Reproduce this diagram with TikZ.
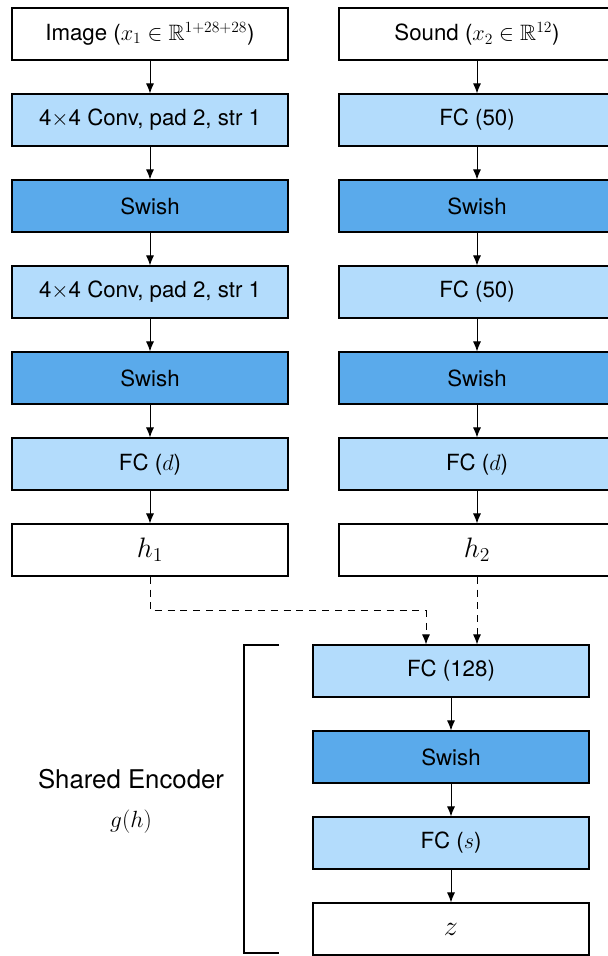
\RequirePackage{fix-cm}
\documentclass[tikz,border=0pt]{standalone}
\usepackage{amsmath}
\usepackage{amssymb}
\usepackage{fontspec}
\setmainfont{TeX Gyre Heros}
\usetikzlibrary{positioning,arrows.meta}
\definecolor{lightblue}{RGB}{179,220,252}
\definecolor{darkblue}{RGB}{90,170,235}

\begin{document}
\begin{tikzpicture}[x=0.03cm,y=-0.03cm,node distance=0.985cm,
  layer/.style={draw,line width=1pt,minimum width=8.28cm,minimum height=1.56cm,inner sep=0pt,font=\fontsize{19}{22}\selectfont},
  plain/.style={layer,fill=white},
  fc/.style={layer,fill=lightblue},
  act/.style={layer,fill=darkblue},
  big/.style={font=\fontsize{24}{28}\selectfont},
  flow/.style={line width=0.8pt,-{Latex[length=3mm,width=2.4mm]}},
  skip/.style={flow,dashed,dash pattern=on 6pt off 5pt}]

  \useasboundingbox (0,0) rectangle (607,956);

  % image branch
  \node[plain] (img) at (150,34) {Image ($x_1 \in \mathbb{R}^{1+28+28}$)};
  \node[fc,below=of img] (conv1) {4$\times$4 Conv, pad 2, str 1};
  \node[act,below=of conv1] (swa1) {Swish};
  \node[fc,below=of swa1] (conv2) {4$\times$4 Conv, pad 2, str 1};
  \node[act,below=of conv2] (swa2) {Swish};
  \node[fc,below=of swa2] (fca) {FC ($d$)};
  \node[plain,big,below=of fca] (h1) {$h_1$};

  % sound branch
  \node[plain] (snd) at (477,34) {Sound ($x_2 \in \mathbb{R}^{12}$)};
  \node[fc,below=of snd] (fcb1) {FC (50)};
  \node[act,below=of fcb1] (swb1) {Swish};
  \node[fc,below=of swb1] (fcb2) {FC (50)};
  \node[act,below=of fcb2] (swb2) {Swish};
  \node[fc,below=of swb2] (fcb3) {FC ($d$)};
  \node[plain,big,below=of fcb3] (h2) {$h_2$};

  % shared encoder
  \node[fc] (fcs1) at (451,671) {FC (128)};
  \node[act,below=of fcs1] (sws) {Swish};
  \node[fc,below=of sws] (fcs2) {FC ($s$)};
  \node[plain,big,below=of fcs2] (z) {$z$};

  \foreach \a/\b in {img/conv1,conv1/swa1,swa1/conv2,conv2/swa2,swa2/fca,fca/h1,
                     snd/fcb1,fcb1/swb1,swb1/fcb2,fcb2/swb2,swb2/fcb3,fcb3/h2,
                     fcs1/sws,sws/fcs2,fcs2/z}
    \draw[flow] (\a) -- (\b);

  \draw[skip] (h1.south) -- ++(0,34) -| ([xshift=-0.75cm]fcs1.north);
  \draw[skip] (h2.south) -- (h2.south |- fcs1.north);

  % bracket
  \draw[line width=1pt] (279,645) -| (244,953) -- (279,953);
  \node[font=\fontsize{22}{26}\selectfont] (shared) at (131,779) {Shared Encoder};
  \node[font=\fontsize{20}{24}\selectfont] (gh) at (131,822) {$g(h)$};
\end{tikzpicture}
\end{document}
